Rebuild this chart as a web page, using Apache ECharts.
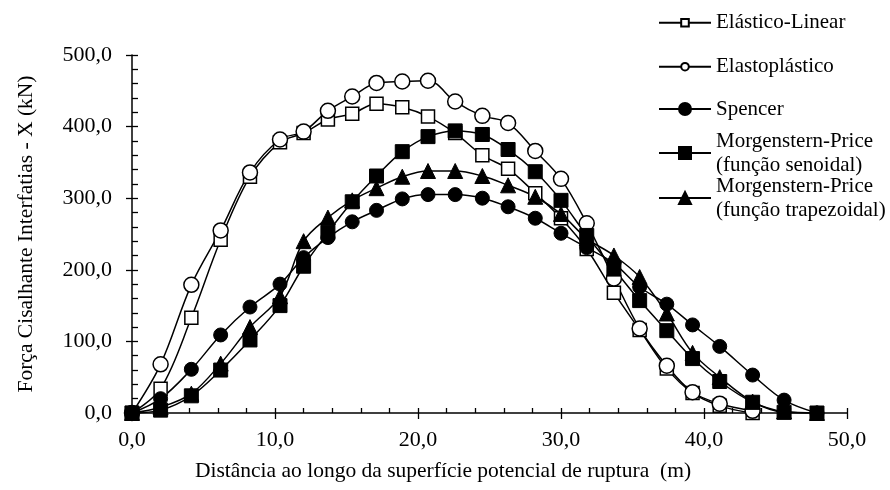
<!DOCTYPE html>
<html>
<head>
<meta charset="utf-8">
<script src="https://cdn.jsdelivr.net/npm/echarts@6/dist/echarts.min.js"></script>
<style>
  html, body { margin: 0; padding: 0; background: #fff; }
  #chart { width: 890px; height: 490px; }
</style>
</head>
<body>
<div id="chart"></div>
<script>
// Distância ao longo da superfície de ruptura (m), pontos de cálculo
const distancia = [0, 2.0, 4.15, 6.2, 8.25, 10.35, 12.0, 13.7, 15.4, 17.1, 18.9, 20.7, 22.6,
  24.5, 26.3, 28.2, 30.0, 31.8, 33.7, 35.5, 37.4, 39.2, 41.1, 43.4, 45.6, 47.9];

// Força cisalhante interfatias X (kN)
const elasticoLinear = [0, 34, 133, 242, 330, 378, 391, 410, 418, 432, 427, 414, 391,
  360, 341, 307, 272, 229, 168, 116, 62, 28, 10, 0];
const elastoplastico = [0, 68, 179, 255, 336, 382, 393, 422, 442, 461, 463, 464, 435,
  415, 405, 366, 327, 265, 188, 118, 66, 29, 13, 3];
const spencer = [0, 20, 61, 109, 148, 180, 217, 245, 267, 283, 299, 305, 305,
  300, 288, 272, 251, 231, 209, 176, 152, 123, 93, 53, 18, 0];
const mpSenoidal = [0, 4, 24, 60, 102, 150, 205, 252, 295, 331, 365, 386, 394,
  389, 368, 337, 297, 248, 201, 157, 115, 76, 44, 15, 1, 0];
const mpTrapezoidal = [0, 8, 27, 69, 120, 163, 240, 273, 297, 314, 330, 338, 338,
  331, 318, 302, 278, 244, 220, 190, 139, 84, 50, 16, 2, 0];

// Rótulos dos eixos
const xTickLabels = ['0,0', '10,0', '20,0', '30,0', '40,0', '50,0'];
const yTickLabels = ['0,0', '100,0', '200,0', '300,0', '400,0', '500,0'];

const nomes = [
  'Elástico-Linear',
  'Elastoplástico',
  'Spencer',
  'Morgenstern-Price (função senoidal)',
  'Morgenstern-Price (função trapezoidal)'
];

const FONT = 'Liberation Serif';
const pares = vals => vals.map((v, i) => [distancia[i], v]);

function serie(nome, vals, symbol, size, aberto) {
  return {
    name: nome,
    type: 'line',
    data: pares(vals),
    smooth: 0.35,
    symbol: symbol,
    symbolSize: size,
    showAllSymbol: true,
    lineStyle: { color: '#000', width: 1.5 },
    itemStyle: aberto
      ? { color: '#fff', borderColor: '#000', borderWidth: 1.5 }
      : { color: '#000', borderColor: '#000', borderWidth: 1 },
    emphasis: { disabled: true },
    animation: false
  };
}

// Uma legenda por item, para alinhar o ícone com a primeira linha do texto
const linhasLegenda = [22.7, 66.7, 109, 153, 198];
const alturaIcone = [9.5, 9.5, 15, 15, 15];
const legendas = nomes.map((nome, i) => {
  const duasLinhas = nome.startsWith('Morgenstern');
  return {
    data: [nome],
    orient: 'vertical',
    left: 658,
    top: linhasLegenda[i] - (duasLinhas ? 36 : 12),
    padding: 0,
    itemWidth: 52,
    itemHeight: alturaIcone[i],
    selectedMode: false,
    formatter: n => n.replace(' (', '\n('),
    textStyle: {
      fontFamily: FONT, fontSize: 21, color: '#000', lineHeight: 24,
      padding: duasLinhas ? [24, 0, 0, 0] : 0
    }
  };
});

const eixoX = {
  type: 'value', min: 0, max: 50, interval: 10, gridIndex: 0
};
const eixoY = {
  type: 'value', min: 0, max: 500, interval: 100, gridIndex: 0
};

const option = {
  backgroundColor: '#fff',
  animation: false,
  grid: { left: 132, right: 43, top: 55, bottom: 77 },
  legend: legendas,
  xAxis: [
    Object.assign({}, eixoX, {
      position: 'bottom',
      name: 'Distância ao longo da superfície potencial de ruptura  (m)',
      nameLocation: 'middle',
      nameGap: 47,
      nameTextStyle: { fontFamily: FONT, fontSize: 21.5, color: '#000', padding: [0, 93, 0, 0] },
      axisLine: { show: true, lineStyle: { color: '#000', width: 1.5 } },
      axisTick: { show: true, inside: true, length: 5, lineStyle: { color: '#000', width: 1.3 } },
      minorTick: { show: true, splitNumber: 5, length: 5, lineStyle: { color: '#000', width: 1.3 } },
      splitLine: { show: false },
      axisLabel: {
        margin: 16, fontFamily: FONT, fontSize: 22, color: '#000',
        formatter: v => xTickLabels[Math.round(v / 10)]
      }
    }),
    Object.assign({}, eixoX, {
      position: 'bottom',
      axisLine: { show: false },
      axisTick: { show: true, inside: false, length: 6, lineStyle: { color: '#000', width: 1.3 } },
      axisLabel: { show: false },
      splitLine: { show: false }
    })
  ],
  yAxis: [
    Object.assign({}, eixoY, {
      position: 'left',
      name: 'Força Cisalhante Interfatias - X (kN)',
      nameLocation: 'middle',
      nameGap: 95,
      nameTextStyle: { fontFamily: FONT, fontSize: 21.5, color: '#000' },
      axisLine: { show: true, lineStyle: { color: '#000', width: 1.5 } },
      axisTick: { show: true, inside: true, length: 6, lineStyle: { color: '#000', width: 1.3 } },
      minorTick: { show: true, splitNumber: 5, length: 6, lineStyle: { color: '#000', width: 1.3 } },
      splitLine: { show: false },
      axisLabel: {
        margin: 20, fontFamily: FONT, fontSize: 22, color: '#000',
        formatter: v => yTickLabels[Math.round(v / 100)]
      }
    }),
    Object.assign({}, eixoY, {
      position: 'left',
      axisLine: { show: false },
      axisTick: { show: true, inside: false, length: 6, lineStyle: { color: '#000', width: 1.3 } },
      axisLabel: { show: false },
      splitLine: { show: false }
    })
  ],
  series: [
    serie(nomes[0], elasticoLinear, 'rect', 13, true),
    serie(nomes[1], elastoplastico, 'circle', 15, true),
    serie(nomes[2], spencer, 'circle', 14, false),
    serie(nomes[3], mpSenoidal, 'rect', 14, false),
    serie(nomes[4], mpTrapezoidal, 'triangle', 15, false)
  ]
};

const chart = echarts.init(document.getElementById('chart'), null, { renderer: 'canvas' });
chart.setOption(option);
</script>
</body>
</html>
